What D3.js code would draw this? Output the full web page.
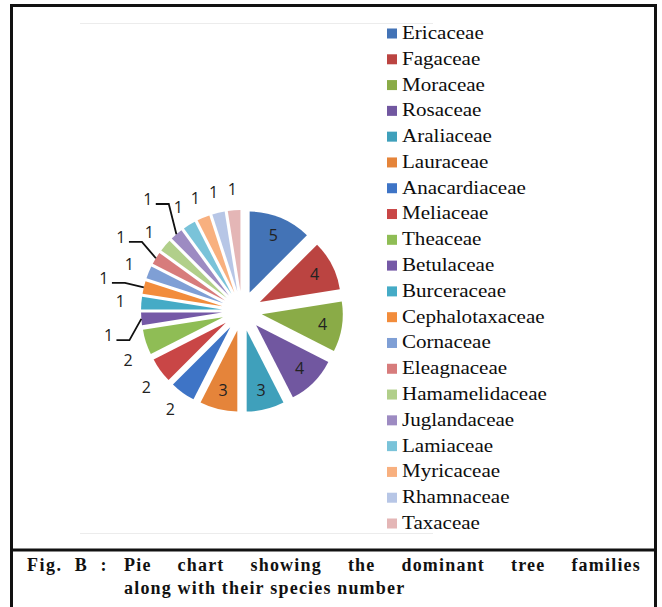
<!DOCTYPE html>
<html>
<head>
<meta charset="utf-8">
<script src="https://cdn.jsdelivr.net/npm/d3@7"></script>
<style>
  html, body { margin: 0; padding: 0; background: #fff; }
  svg { display: block; }
</style>
</head>
<body>
<svg id="chart" width="662" height="607"></svg>
<script>
// ---- data ----
const categories = ["Ericaceae","Fagaceae","Moraceae","Rosaceae","Araliaceae","Lauraceae",
  "Anacardiaceae","Meliaceae","Theaceae","Betulaceae","Burceraceae","Cephalotaxaceae",
  "Cornaceae","Eleagnaceae","Hamamelidaceae","Juglandaceae","Lamiaceae","Myricaceae",
  "Rhamnaceae","Taxaceae"];
const speciesCounts = [5,4,4,4,3,3,2,2,2,1,1,1,1,1,1,1,1,1,1,1];
const sliceColors = ["#4373b6","#bb4441","#8aab47","#7157a0","#3fa0bb","#e5843a",
  "#3e74c6","#c94646","#8fbd55","#7559a6","#45abc6","#f28c3b",
  "#7f9fd5","#d77c7c","#b1cf8a","#9d8bc2","#7ac3d9","#f8b07f",
  "#b7c6e6","#e4b6b6"];
const captionPrefix = "Fig. B :";
const captionLine1 = "Pie chart showing the dominant tree families";
const captionLine2 = "along with their species number";

// ---- layout ----
const SERIF = '"Liberation Serif", serif';
const SANS = '"Open Sans", sans-serif';
const svg = d3.select("#chart");
const cx = 242, cy = 311, R = 81, explode = 20;
const insideR = explode + 0.76 * R;
const outsideR = 122;
const leaderR = 142;
const leaderNames = new Set(["Betulaceae","Cephalotaxaceae","Eleagnaceae","Juglandaceae"]);
const labelNudge = { Theaceae: [2, 12], Meliaceae: [3, 5], Betulaceae: [8, 13], Juglandaceae: [-2, -4] };

// frame
svg.append("rect").attr("x", 11.5).attr("y", 5.5).attr("width", 644).attr("height", 610)
  .attr("fill", "none").attr("stroke", "#111").attr("stroke-width", 3);
svg.append("line").attr("x1", 11.5).attr("x2", 655.5).attr("y1", 550).attr("y2", 550)
  .attr("stroke", "#111").attr("stroke-width", 3);
svg.append("line").attr("x1", 80).attr("x2", 433).attr("y1", 23.5).attr("y2", 23.5)
  .attr("stroke", "#ececec").attr("stroke-width", 1);
svg.append("line").attr("x1", 80).attr("x2", 433).attr("y1", 533.5).attr("y2", 533.5)
  .attr("stroke", "#ececec").attr("stroke-width", 1);

const data = categories.map((c, i) => ({ name: c, value: speciesCounts[i], color: sliceColors[i] }));
const pie = d3.pie().sort(null).value(d => d.value).startAngle(0).endAngle(2 * Math.PI);
const arc = d3.arc().innerRadius(0).outerRadius(R);
const arcs = pie(data);
const dir = a => [Math.sin(a), -Math.cos(a)];

const g = svg.append("g").attr("transform", `translate(${cx},${cy})`);
g.selectAll("path.slice").data(arcs).join("path")
  .attr("class", "slice")
  .attr("d", arc)
  .attr("fill", d => d.data.color)
  .attr("transform", d => {
    const m = (d.startAngle + d.endAngle) / 2, [ux, uy] = dir(m);
    return `translate(${ux * explode},${uy * explode})`;
  });

arcs.forEach(d => {
  const m = (d.startAngle + d.endAngle) / 2, [ux, uy] = dir(m);
  let lx, ly;
  const big = d.data.value >= 3;
  if (big) { lx = ux * insideR; ly = uy * insideR; }
  else if (leaderNames.has(d.data.name)) { lx = ux * leaderR; ly = uy * leaderR; }
  else { lx = ux * outsideR; ly = uy * outsideR; }
  const nudge = labelNudge[d.data.name];
  if (nudge) { lx += nudge[0]; ly += nudge[1]; }
  g.append("text").attr("x", lx).attr("y", ly).attr("dy", "0.36em")
    .attr("text-anchor", "middle").style("font-family", SANS)
    .attr("font-size", 16).attr("fill", "#222")
    .text(d.data.value);
  if (leaderNames.has(d.data.name)) {
    const ex = ux * (explode + R), ey = uy * (explode + R);
    const sx = lx + 8, sy = ly + 5;
    g.append("polyline")
      .attr("points", `${sx},${sy} ${sx + 13},${sy} ${ex},${ey}`)
      .attr("fill", "none").attr("stroke", "#111").attr("stroke-width", 1.8);
  }
});

// legend
const ly = d3.scalePoint().domain(categories).range([33, 523]);
const legend = svg.append("g");
categories.forEach((c, i) => {
  const y = ly(c);
  legend.append("rect").attr("x", 387).attr("y", y - 4.5).attr("width", 10).attr("height", 10)
    .attr("fill", sliceColors[i]);
  legend.append("g").attr("transform", `translate(402,${y}) scale(1.17,1)`)
    .append("text").attr("x", 0).attr("y", 0).attr("dy", "0.33em")
    .style("font-family", SERIF)
    .attr("font-size", 18).attr("fill", "#0d0d0d").text(c);
});

// caption
function placeWords(str, x0, x1, y, justify, ls) {
  const words = str.split(" ");
  const nodes = words.map(w => svg.append("text")
    .attr("y", y).style("font-family", SERIF).attr("font-weight", "bold").attr("font-size", 18)
    .style("letter-spacing", ls + "px").attr("fill", "#111").text(w));
  const widths = nodes.map(n => n.node().getBBox().width);
  const total = d3.sum(widths);
  const gap = justify && words.length > 1 ? (x1 - x0 - total) / (words.length - 1) : 5.5;
  let x = x0;
  nodes.forEach((n, i) => { n.attr("x", x); x += widths[i] + gap; });
}
placeWords(captionPrefix, 27, 108, 571, true, 1.5);
placeWords(captionLine1, 124, 641, 571, true, 1.2);
placeWords(captionLine2, 124, 405, 594, false, 1.2);
</script>
</body>
</html>
